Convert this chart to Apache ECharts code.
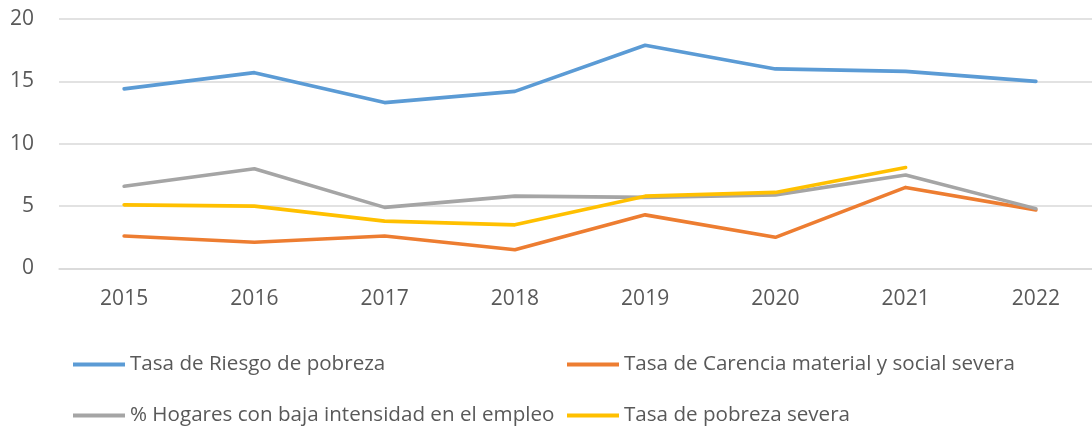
<!DOCTYPE html>
<html>
<head>
<meta charset="utf-8">
<script src="https://cdn.jsdelivr.net/npm/echarts@6/dist/echarts.min.js"></script>
<style>
html,body{margin:0;padding:0;background:#fff;}
#c{width:1092px;height:426px;}
</style>
</head>
<body>
<div id="c"></div>
<script>
const years = ['2015','2016','2017','2018','2019','2020','2021','2022'];
const riesgoPobreza = [14.4, 15.7, 13.3, 14.2, 17.9, 16.0, 15.8, 15.0];
const carenciaMaterial = [2.6, 2.1, 2.6, 1.5, 4.3, 2.5, 6.5, 4.7];
const bajaIntensidad = [6.6, 8.0, 4.9, 5.8, 5.7, 5.9, 7.5, 4.8];
const pobrezaSevera = [5.1, 5.0, 3.8, 3.5, 5.8, 6.1, 8.1, null];
const seriesNames = ['Tasa de Riesgo de pobreza', 'Tasa de Carencia material y social severa', '% Hogares con baja intensidad en el empleo', 'Tasa de pobreza severa'];
const yTicks = [0, 5, 10, 15, 20];

const colors = ['#5B9BD5', '#ED7D31', '#A5A5A5', '#FFC000'];
const dataSets = [riesgoPobreza, carenciaMaterial, bajaIntensidad, pobrezaSevera];
const font = 'Open Sans';
const txt = '#595959';

const legendPos = [
  {left: 73, top: 354},
  {left: 567, top: 354},
  {left: 73, top: 405},
  {left: 567, top: 405}
];

const chart = echarts.init(document.getElementById('c'), null, {renderer: 'canvas'});
chart.setOption({
  animation: false,
  backgroundColor: '#fff',
  color: colors,
  grid: {left: 59, top: 19, right: -9, bottom: 157.5, containLabel: false, outerBoundsMode: 'none'},
  legend: seriesNames.map((n, i) => ({
    data: [n],
    left: legendPos[i].left,
    top: legendPos[i].top,
    icon: 'rect',
    itemWidth: 52,
    itemHeight: 4,
    padding: 0,
    textStyle: {fontFamily: font, fontSize: 20.6, color: txt}
  })),
  xAxis: {
    type: 'category',
    data: years,
    boundaryGap: true,
    axisLine: {show: true, lineStyle: {color: '#d9d9d9', width: 1.5}},
    axisTick: {show: false},
    axisLabel: {fontFamily: font, fontSize: 21, color: txt, margin: 20}
  },
  yAxis: {
    type: 'value',
    min: yTicks[0],
    max: yTicks[yTicks.length - 1],
    interval: 5,
    axisLine: {show: false},
    axisTick: {show: false},
    splitLine: {lineStyle: {color: '#d9d9d9', width: 1.5}},
    axisLabel: {fontFamily: font, fontSize: 21, color: txt, margin: 25}
  },
  series: seriesNames.map((n, i) => ({
    name: n,
    type: 'line',
    data: dataSets[i],
    symbol: 'none',
    showSymbol: false,
    lineStyle: {width: 3.6, color: colors[i], cap: 'round', join: 'round'},
    itemStyle: {color: colors[i]},
    connectNulls: false
  }))
});
</script>
</body>
</html>
